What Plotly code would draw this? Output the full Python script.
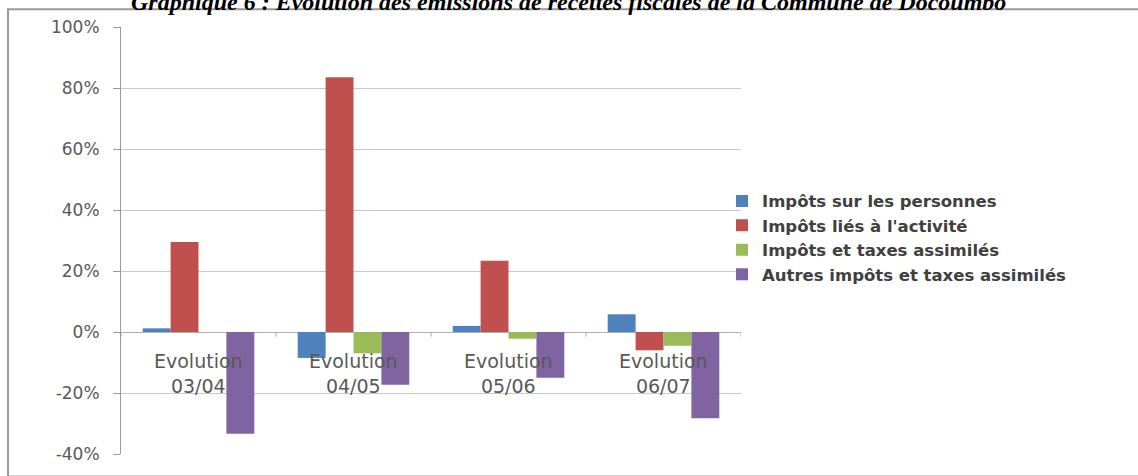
import plotly.graph_objects as go

categories = ["Evolution 03/04", "Evolution 04/05", "Evolution 05/06", "Evolution 06/07"]
cat_labels = ["Evolution<br>03/04", "Evolution<br>04/05", "Evolution<br>05/06", "Evolution<br>06/07"]

series_names = [
    "Impôts sur les personnes",
    "Impôts liés à l'activité",
    "Impôts et taxes assimilés",
    "Autres impôts et taxes assimilés",
]
personnes = [0.012, -0.085, 0.02, 0.058]
activite = [0.295, 0.835, 0.234, -0.06]
taxes = [0.0, -0.07, -0.022, -0.045]
autres = [-0.334, -0.173, -0.15, -0.283]
series_values = [personnes, activite, taxes, autres]
colors = ["#4F81BD", "#C0504D", "#9BBB59", "#8064A2"]

y_ticks = [-0.4, -0.2, 0.0, 0.2, 0.4, 0.6, 0.8, 1.0]
y_tick_labels = ["-40%", "-20%", "0%", "20%", "40%", "60%", "80%", "100%"]

title_text = "Graphique 6 : Evolution des émissions de recettes fiscales de la Commune de Docoumbo"

W, H = 1138, 476
ML, MR, MT, MB = 121, 397, 27, 13
PW = W - ML - MR
PH = H - MT - MB

fig = go.Figure()
for name, vals, col in zip(series_names, series_values, colors):
    fig.add_trace(go.Bar(x=categories, y=vals, name=name, marker=dict(color=col, line=dict(width=0))))

# category labels placed at the zero line (Excel style)
for cat, lab in zip(categories, cat_labels):
    fig.add_annotation(x=cat, y=0, xref="x", yref="y", text=lab, showarrow=False,
                       yanchor="top", yshift=-16,
                       font=dict(family="DejaVu Sans", size=19, color="#595959"))

# tick marks on zero axis between categories
for i in range(len(categories) + 1):
    fig.add_shape(type="line", xref="x", yref="y", x0=i - 0.5, x1=i - 0.5, y0=0, y1=-0.015,
                  line=dict(color="#a6a6a6", width=1))

# outer frame
fig.add_shape(type="rect", xref="paper", yref="paper",
              x0=(8 - ML) / PW, x1=(W + 5 - ML) / PW,
              y0=-(H + 10 - (H - MB)) / PH, y1=1 + (MT - 9) / PH,
              line=dict(color="#9a9a9a", width=2), layer="below")

fig.add_annotation(text="<b><i>" + title_text + "</i></b>", xref="paper", yref="paper",
                   x=(568 - ML) / PW, y=1 + (MT - 17) / PH, xanchor="center", yanchor="bottom",
                   showarrow=False, font=dict(family="Liberation Serif", size=24, color="#000000"))

fig.update_layout(
    width=W, height=H,
    margin=dict(l=ML, r=MR, t=MT, b=MB),
    paper_bgcolor="white", plot_bgcolor="white",
    barmode="group", bargap=0.28, bargroupgap=0,
    showlegend=True,
    legend=dict(x=(722 - ML) / PW, y=1 - (187 - MT) / PH, xanchor="left", yanchor="top",
                font=dict(family="DejaVu Sans", size=16.5, color="#404040", weight="bold"),
                bgcolor="rgba(0,0,0,0)", tracegroupgap=0, itemwidth=30),
    xaxis=dict(showticklabels=False, showgrid=False, zeroline=False, showline=False,
               range=[-0.5, len(categories) - 0.5]),
    yaxis=dict(range=[-0.4, 1.0], tickvals=y_ticks, ticktext=y_tick_labels,
               showgrid=True, gridcolor="#c8c8c8", gridwidth=1,
               zeroline=True, zerolinecolor="#b0b0b0", zerolinewidth=1,
               showline=True, linecolor="#9a9a9a", linewidth=1,
               ticks="outside", ticklen=7, tickcolor="#9a9a9a", ticklabelstandoff=10,
               tickfont=dict(family="DejaVu Sans", size=17, color="#595959")),
)

fig.write_html("out.html")
